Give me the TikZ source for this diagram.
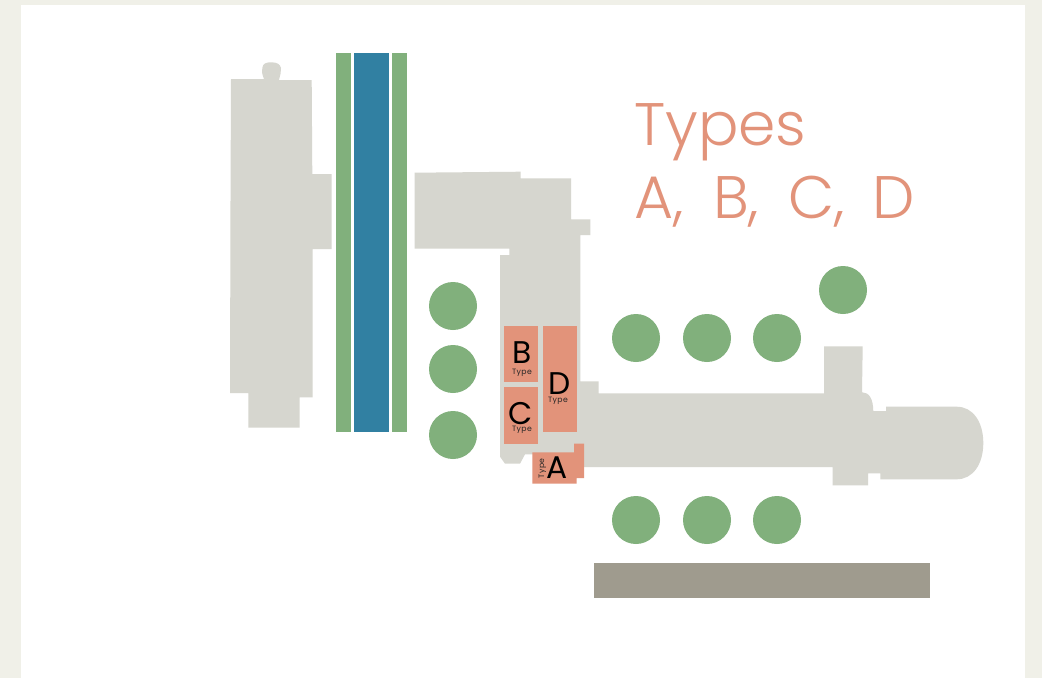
\documentclass[tikz,border=0pt]{standalone}
\usepackage{fontspec}
\setmainfont{Poppins}[UprightFont=* Light]
\newfontfamily\labelfont{Poppins}
\newfontfamily\typefont{Poppins}[LetterSpace=5]
\definecolor{pagebg}{HTML}{F0F0E8}
\definecolor{wallgrey}{HTML}{D6D6CF}
\definecolor{treegreen}{HTML}{81B07C}
\definecolor{waterblue}{HTML}{3180A2}
\definecolor{unitorange}{HTML}{E2937A}
\definecolor{taupe}{HTML}{9F9B8E}
\tikzset{
  building/.style={fill=wallgrey},
  strip/.style={fill=treegreen},
  tree/.style={fill=treegreen},
  unit/.style={fill=unitorange},
  bigletter/.style={inner sep=0pt,font=\labelfont\fontsize{23.5pt}{23.5pt}\selectfont,text=black},
  typelabel/.style={inner sep=0pt,anchor=base,font=\typefont\fontsize{5.8pt}{5.8pt}\selectfont,text=black!85},
  titletext/.style={inner sep=0pt,anchor=base west,text=unitorange,font=\fontsize{45pt}{45pt}\selectfont}
}
\begin{document}
\begin{tikzpicture}[x=0.75pt,y=-0.75pt]
\useasboundingbox (0,0) rectangle (1042,678);
\fill[pagebg] (0,0) rectangle (1042,678);
\fill[white] (21,5) rectangle (1025,678);
% left building
\fill[building] (231,79) -- (264,79) .. controls (262,74) and (261.5,71) .. (262.3,68) .. controls (263,63.5) and (266,62.3) .. (271,62.3) .. controls (277,62.3) and (280,64) .. (281,68) .. controls (281.5,72) and (280,75) .. (279,80) -- (311.7,80) -- (312.3,174) -- (331.7,174) -- (331.7,249) -- (312.5,249) -- (312.5,397.3) -- (299.5,397.3) -- (299.5,427.7) -- (248.3,427.7) -- (248.3,393) -- (230,393) -- (230.5,200) -- cycle;
% water and strips
\fill[strip] (336,53) rectangle (351,432);
\fill[waterblue] (354,53) rectangle (389,432);
\fill[strip] (392,53) rectangle (407,432);
% central building
\fill[building] (414.7,172.7) -- (520.7,171.7) -- (520.7,178.3) -- (571,178.3) -- (571,219.3) -- (590.3,219.3) -- (590.3,235) -- (580.3,235) -- (580.3,381.3) -- (598.7,381.3) -- (598.7,393.3) -- (824,393.3) -- (824,346.3) -- (862.7,346.3) -- (862,392.3) .. controls (869,392.5) and (873,398) .. (873.3,411) -- (886,411) -- (886,406.7) -- (956.7,406.7) .. controls (973,406.7) and (983.3,422) .. (983.3,443) .. controls (983.3,464) and (973,479.3) .. (956.7,479.3) -- (880.3,479.3) -- (880.3,473.3) -- (868,473.3) -- (868,485.3) -- (832.7,485.3) -- (832.7,467) -- (560,467) -- (560,454.3) -- (525,454.3) -- (520,463.7) -- (505,463.7) -- (500,456.7) -- (500,255) -- (509.3,255) -- (509.3,248.7) -- (414.7,248.7) -- cycle;
% road
\fill[taupe] (594,563) rectangle (930,598);
% trees
\foreach \cx/\cy in {453/306,453/369,453/435,636/338,707/338,777/338,843/290,636/520,707/520,777/520}
  \fill[tree] (\cx,\cy) circle (24);
% units
\fill[unit] (503.7,325.7) rectangle (538,382);
\fill[unit] (503.7,387.3) rectangle (538,443.7);
\fill[unit] (542.7,325.7) rectangle (577,431.7);
\fill[unit] (532.3,452.3) -- (574,452.3) -- (574,443.7) -- (584,443.7) -- (584,478) -- (576.7,478) -- (576.7,483.7) -- (532.3,483.7) -- cycle;
% labels
\node[bigletter] (lb) at (522,352.5) {B};
\node[typelabel] (tb) at (522,374.3) {Type};
\node[bigletter] (lc) at (520.7,413.3) {C};
\node[typelabel] (tc) at (522,431) {Type};
\node[bigletter] (ld) at (560,384) {D};
\node[typelabel] (td) at (558,402.3) {Type};
\node[bigletter] (la) at (557,468) {A};
\node[typelabel,rotate=90] (ta) at (544,468.3) {Type};
% title
\node[titletext] (t1) at (634,145) {Types};
\node[titletext] (t2) at (634,218) {A,\kern22pt B,\kern22pt C,\kern20.5pt D};
\end{tikzpicture}
\end{document}
